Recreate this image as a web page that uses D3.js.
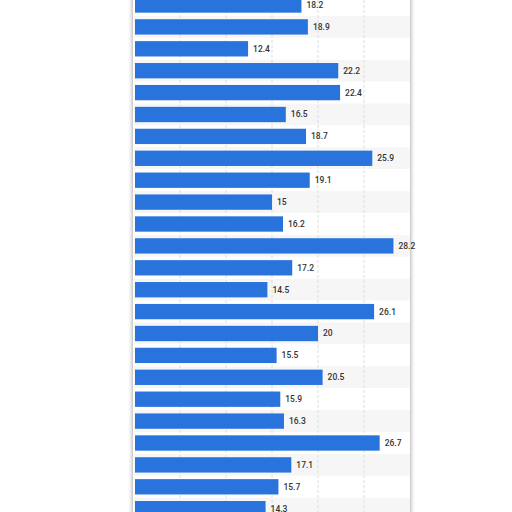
<!DOCTYPE html><html><head><script src="https://cdn.jsdelivr.net/npm/d3@7"></script>
<style>body{margin:0;background:#fff}</style></head><body><svg id="c" width="512" height="512"></svg>
<script>
const values=[18.2,18.9,12.4,22.2,22.4,16.5,18.7,25.9,19.1,15,16.2,28.2,17.2,14.5,26.1,20,15.5,20.5,15.9,16.3,26.7,17.1,15.7,14.3];
const categories=values.map((v,i)=>"Row "+(i+1));
const ticks=[0,5,10,15,20,25,30];
const svg=d3.select("#c");
const defs=svg.append("defs");
const f=defs.append("filter").attr("id","sh").attr("x","-10%").attr("width","120%");
f.append("feGaussianBlur").attr("in","SourceAlpha").attr("stdDeviation",2.5);
f.append("feComponentTransfer").append("feFuncA").attr("type","linear").attr("slope",0.45);
const m=f.append("feMerge");m.append("feMergeNode");m.append("feMergeNode").attr("in","SourceGraphic");
const x=d3.scaleLinear().domain([0,30]).range([134,410]);
const step=21.9, y0=5-step/2;
const y=d3.scaleBand().domain(categories).range([y0,y0+step*values.length]).paddingInner(0.3).paddingOuter(0.15);
svg.append("rect").attr("x",133).attr("y",-20).attr("width",277).attr("height",560).attr("fill","#fff").attr("filter","url(#sh)");
svg.selectAll(".bg").data(categories).join("rect").attr("x",134).attr("width",276)
 .attr("y",(d,i)=>y0+i*step).attr("height",step).attr("fill",(d,i)=>i%2?"#f6f6f6":"#fff");
svg.selectAll(".g").data(ticks.slice(1,-1)).join("line").attr("x1",d=>x(d)).attr("x2",d=>x(d))
 .attr("y1",-10).attr("y2",520).attr("stroke","#ddd").attr("stroke-dasharray","3,2");
svg.selectAll(".b").data(values).join("rect").attr("x",x(0)+1).attr("y",(d,i)=>y(categories[i]))
 .attr("height",y.bandwidth()).attr("width",d=>x(d)-x(0)-1).attr("fill","#2873dc");
svg.selectAll(".t").data(values).join("text").attr("x",d=>x(d)+5).attr("y",(d,i)=>y(categories[i])+y.bandwidth()/2)
 .attr("dy","0.35em").attr("font-family","Roboto, sans-serif").attr("font-size",8.5).attr("font-weight",500)
 .attr("fill","#333").text(d=>d);
</script></body></html>
